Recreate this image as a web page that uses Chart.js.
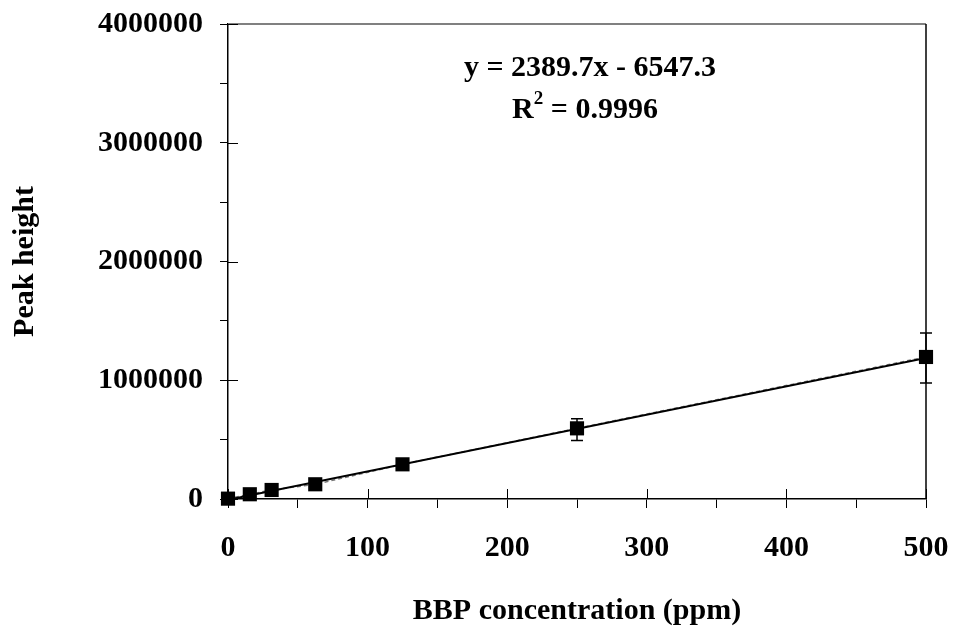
<!DOCTYPE html>
<html>
<head>
<meta charset="utf-8">
<script src="https://cdn.jsdelivr.net/npm/chart.js@4/dist/chart.umd.min.js"></script>
<style>
html,body{margin:0;padding:0;background:#fff;}
#wrap{width:954px;height:631px;position:relative;}
</style>
</head>
<body>
<div id="wrap"><canvas id="c" width="954" height="631"></canvas></div>
<script>
// ---- data ----
const concentrations = [0, 15.625, 31.25, 62.5, 125, 250, 500];
const peakHeights = [3000, 40000, 76000, 124000, 292000, 595000, 1196000];
const errorPlus = [0, 0, 0, 0, 30000, 80000, 201000];
const errorMinus = [0, 0, 0, 0, 30000, 102000, 219000];
const trendSlope = 2389.7;
const trendIntercept = -6547.3;
const trendRange = [0, 500];
const xTickLabels = ['0', '100', '200', '300', '400', '500'];
const yTickLabels = ['0', '1000000', '2000000', '3000000', '4000000'];
const equationText = 'y = 2389.7x - 6547.3';
const r2Parts = ['R', '2', ' = 0.9996'];
const xTitle = 'BBP concentration (ppm)';
const yTitle = 'Peak height';

const FONT = "'Liberation Serif', 'Times New Roman', serif";

const pointsData = concentrations.map((x, i) => ({x: x, y: peakHeights[i]}));
const trendData = trendRange.map(x => ({x: x, y: trendSlope * x + trendIntercept}));

const frameAndTicks = {
  id: 'frameAndTicks',
  afterDraw(chart) {
    const {ctx, chartArea: a, scales: {x, y}} = chart;
    ctx.save();
    ctx.strokeStyle = '#808080';
    ctx.lineWidth = 2;
    ctx.beginPath(); ctx.moveTo(a.left, a.top); ctx.lineTo(a.right, a.top); ctx.stroke();
    ctx.strokeStyle = '#000';
    ctx.lineWidth = 1.5;
    ctx.beginPath(); ctx.moveTo(a.right, a.top); ctx.lineTo(a.right, a.bottom); ctx.stroke();
    ctx.lineWidth = 1;
    xTickLabels.forEach(l => {
      const px = Math.round(x.getPixelForValue(Number(l))) + 0.5;
      ctx.beginPath(); ctx.moveTo(px, a.bottom); ctx.lineTo(px, a.bottom - 10); ctx.stroke();
    });
    yTickLabels.forEach(l => {
      const py = Math.round(y.getPixelForValue(Number(l))) + 0.5;
      ctx.beginPath(); ctx.moveTo(a.left, py); ctx.lineTo(a.left + 10, py); ctx.stroke();
    });
    // equation text
    ctx.fillStyle = '#000';
    ctx.textBaseline = 'alphabetic';
    ctx.textAlign = 'center';
    ctx.font = "bold 30px " + FONT;
    ctx.fillText(equationText, 590, 76);
    // R^2 line with superscript
    ctx.textAlign = 'left';
    const bigFont = "bold 30px " + FONT, smallFont = "bold 19px " + FONT;
    ctx.font = bigFont; const w0 = ctx.measureText(r2Parts[0]).width;
    ctx.font = smallFont; const w1 = ctx.measureText(r2Parts[1]).width;
    ctx.font = bigFont; const w2 = ctx.measureText(r2Parts[2]).width;
    let sx = 585 - (w0 + w1 + w2) / 2;
    ctx.font = bigFont; ctx.fillText(r2Parts[0], sx, 118); sx += w0;
    ctx.font = smallFont; ctx.fillText(r2Parts[1], sx, 104); sx += w1;
    ctx.font = bigFont; ctx.fillText(r2Parts[2], sx, 118);
    ctx.restore();
  }
};

const errorBars = {
  id: 'errorBars',
  afterDatasetsDraw(chart) {
    const {ctx, scales: {x, y}} = chart;
    ctx.save();
    ctx.strokeStyle = '#000';
    ctx.lineWidth = 1.5;
    concentrations.forEach((c, i) => {
      if (!errorPlus[i] && !errorMinus[i]) return;
      const px = x.getPixelForValue(c);
      const top = y.getPixelForValue(peakHeights[i] + errorPlus[i]);
      const bot = y.getPixelForValue(peakHeights[i] - errorMinus[i]);
      ctx.beginPath();
      ctx.moveTo(px, top); ctx.lineTo(px, bot);
      ctx.moveTo(px - 6, top); ctx.lineTo(px + 6, top);
      ctx.moveTo(px - 6, bot); ctx.lineTo(px + 6, bot);
      ctx.stroke();
    });
    ctx.restore();
  }
};

new Chart(document.getElementById('c'), {
  type: 'scatter',
  data: {
    datasets: [
      {
        label: 'points',
        data: pointsData,
        pointStyle: 'rect',
        pointRadius: 10,
        pointHoverRadius: 10,
        backgroundColor: '#000',
        borderColor: '#000',
        borderWidth: 0,
        showLine: false,
        clip: false,
        order: 0
      },
      {
        label: 'trend',
        data: trendData,
        showLine: true,
        borderColor: '#000',
        borderWidth: 2,
        pointRadius: 0,
        order: 1
      },
      {
        label: 'connect',
        data: pointsData,
        showLine: true,
        borderColor: '#777',
        borderWidth: 1.5,
        borderDash: [4, 3],
        pointRadius: 0,
        order: 2
      }
    ]
  },
  options: {
    responsive: false,
    animation: false,
    devicePixelRatio: 1,
    layout: {padding: {top: 24, right: 28, left: 0, bottom: 0}},
    plugins: {legend: {display: false}, tooltip: {enabled: false}},
    scales: {
      x: {
        type: 'linear',
        min: 0, max: 500,
        border: {color: '#000', width: 1.5},
        grid: {drawOnChartArea: false, color: '#000', tickLength: 9, tickWidth: 1},
        ticks: {
          stepSize: 50,
          color: '#000',
          padding: 22,
          maxRotation: 0,
          autoSkip: false,
          font: {family: FONT, size: 30, weight: 'bold'},
          callback: v => xTickLabels.includes(String(v)) ? String(v) : ''
        },
        title: {
          display: true, text: xTitle, color: '#000',
          font: {family: FONT, size: 30, weight: 'bold'},
          padding: {top: 0, bottom: 2}
        },
        afterFit: s => { s.height = 631 - 499; s.paddingLeft = 0; s.paddingRight = 0; }
      },
      y: {
        type: 'linear',
        min: 0, max: 4000000,
        border: {color: '#000', width: 1.5},
        grid: {drawOnChartArea: false, color: '#000', tickLength: 8, tickWidth: 1},
        ticks: {
          stepSize: 500000,
          color: '#000',
          padding: 17,
          autoSkip: false,
          font: {family: FONT, size: 30, weight: 'bold'},
          callback: v => yTickLabels.includes(String(v)) ? String(v) : ''
        },
        title: {
          display: true, text: yTitle, color: '#000',
          font: {family: FONT, size: 30, weight: 'bold'},
          padding: {top: 7, bottom: 0}
        },
        afterFit: s => { s.width = 228; s.paddingTop = 0; s.paddingBottom = 0; }
      }
    }
  },
  plugins: [errorBars, frameAndTicks]
});
</script>
</body>
</html>
